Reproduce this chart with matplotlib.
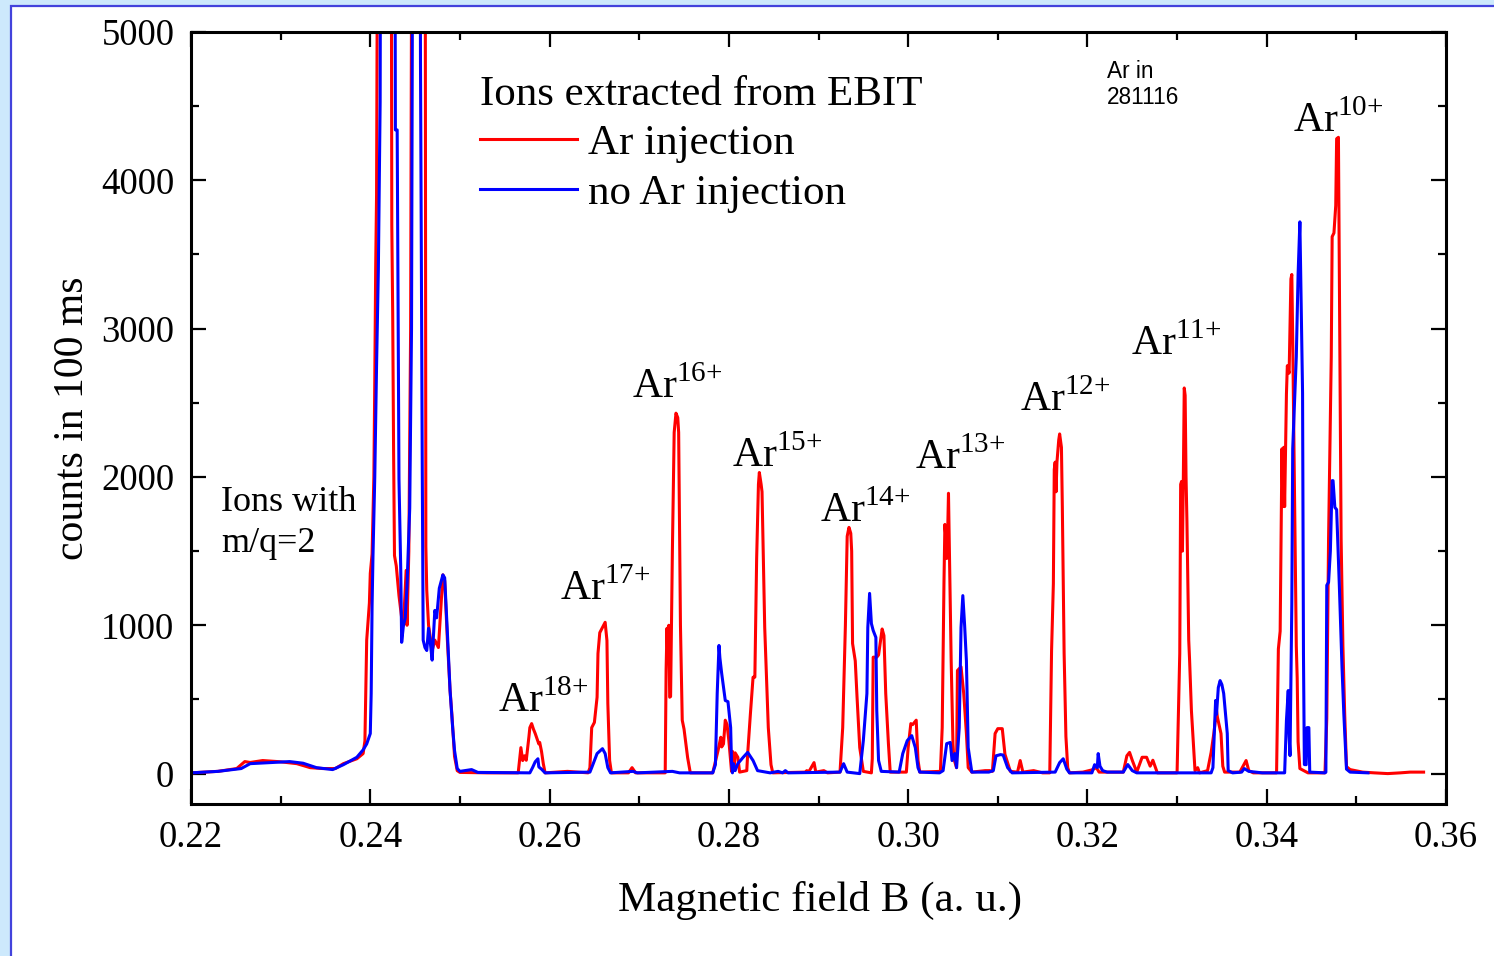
import matplotlib
matplotlib.use('Agg')
import matplotlib.pyplot as plt
from matplotlib.patches import Rectangle
from matplotlib.ticker import MultipleLocator

plt.rcParams['font.family'] = 'Liberation Serif'
plt.rcParams['mathtext.fontset'] = 'custom'
plt.rcParams['mathtext.rm'] = 'Liberation Serif'

# spectrum with Ar injected (B in a.u., counts per 100 ms)
ar_injection = [
    (0.2200, 5), (0.2230, 15), (0.2251, 34), (0.2260, 81), (0.2266, 75), (0.2280, 88),
    (0.2299, 80), (0.2318, 67), (0.2333, 40), (0.2347, 34), (0.2361, 34), (0.2370, 67),
    (0.2385, 100), (0.2392, 135), (0.2394, 220), (0.2396, 900), (0.2399, 1150), (0.2400, 1350),
    (0.2402, 1480), (0.2404, 2000), (0.2405, 2640), (0.2406, 3400), (0.2407, 3900), (0.2409, 7500),
    (0.2423, 7500), (0.2424, 3700), (0.2425, 3100), (0.2426, 2170), (0.2427, 1470), (0.2429, 1400),
    (0.2432, 1200), (0.2435, 1050), (0.2437, 1000), (0.2440, 1370), (0.2441, 1000), (0.2443, 1500),
    (0.2445, 3000), (0.2447, 7500), (0.2461, 7500), (0.2462, 1530), (0.2463, 1235), (0.2465, 1000),
    (0.2469, 830), (0.2472, 900), (0.2476, 850), (0.2479, 1150), (0.2481, 1340), (0.2483, 1300),
    (0.2486, 900), (0.2489, 560), (0.2491, 400), (0.2494, 115), (0.2497, 20), (0.2500, 8),
    (0.2530, 5), (0.2565, 5), (0.2568, 175), (0.2570, 88), (0.2572, 120), (0.2574, 90),
    (0.2577, 250), (0.2578, 310), (0.2580, 337), (0.2582, 300), (0.2584, 270), (0.2588, 200),
    (0.2589, 210), (0.2591, 150), (0.2593, 67), (0.2595, 5), (0.2620, 15), (0.2643, 5),
    (0.2645, 40), (0.2647, 310), (0.2650, 345), (0.2653, 515), (0.2654, 810), (0.2656, 950),
    (0.2659, 985), (0.2662, 1020), (0.2664, 897), (0.2665, 472), (0.2667, 88), (0.2669, 5),
    (0.2688, 5), (0.2692, 40), (0.2696, 5), (0.2729, 5), (0.2730, 700), (0.2731, 980),
    (0.2732, 750), (0.2733, 1000), (0.2734, 515), (0.2735, 520), (0.2737, 1500), (0.2739, 2300),
    (0.2741, 2430), (0.2743, 2400), (0.2744, 2300), (0.2746, 1000), (0.2748, 360), (0.2750, 300),
    (0.2754, 108), (0.2757, 5), (0.2782, 5), (0.2788, 157), (0.2791, 245), (0.2792, 180),
    (0.2794, 200), (0.2796, 360), (0.2798, 330), (0.2800, 222), (0.2803, 15), (0.2804, 150),
    (0.2806, 40), (0.2807, 140), (0.2810, 110), (0.2812, 10), (0.2820, 20), (0.2821, 135),
    (0.2824, 400), (0.2827, 650), (0.2829, 650), (0.2831, 1450), (0.2833, 1950), (0.2834, 2030),
    (0.2836, 1950), (0.2837, 1900), (0.2839, 1300), (0.2840, 985), (0.2844, 310), (0.2847, 60),
    (0.2849, 5), (0.2885, 10), (0.2887, 20), (0.2889, 10), (0.2895, 74), (0.2897, 10),
    (0.2906, 20), (0.2910, 5), (0.2924, 10), (0.2927, 310), (0.2930, 1000), (0.2932, 1600),
    (0.2934, 1660), (0.2936, 1620), (0.2937, 1500), (0.2938, 877), (0.2941, 760), (0.2943, 515),
    (0.2946, 175), (0.2950, 15), (0.2959, 5), (0.2960, 100), (0.2961, 785), (0.2965, 785),
    (0.2967, 800), (0.2971, 975), (0.2973, 930), (0.2975, 540), (0.2978, 202), (0.2980, 10),
    (0.2998, 10), (0.3000, 175), (0.3003, 337), (0.3005, 330), (0.3009, 360), (0.3011, 90),
    (0.3013, 10), (0.3036, 15), (0.3038, 310), (0.3040, 1300), (0.3041, 1680), (0.3042, 1600),
    (0.3043, 1450), (0.3044, 1600), (0.3045, 1890), (0.3046, 1500), (0.3048, 760), (0.3050, 200),
    (0.3051, 100), (0.3054, 40), (0.3055, 695), (0.3059, 720), (0.3062, 540), (0.3065, 270),
    (0.3067, 40), (0.3071, 10), (0.3086, 20), (0.3091, 20), (0.3094, 15), (0.3097, 270),
    (0.3100, 303), (0.3105, 303), (0.3108, 130), (0.3114, 15), (0.3122, 10), (0.3125, 88),
    (0.3128, 10), (0.3140, 20), (0.3150, 5), (0.3158, 5), (0.3160, 830), (0.3162, 1280),
    (0.3163, 2050), (0.3164, 2100), (0.3165, 1900), (0.3166, 2100), (0.3168, 2250), (0.3169, 2290),
    (0.3171, 2200), (0.3172, 1800), (0.3174, 810), (0.3176, 250), (0.3178, 40), (0.3180, 5),
    (0.3195, 10), (0.3205, 25), (0.3210, 40), (0.3213, 10), (0.3240, 10), (0.3244, 120),
    (0.3247, 143), (0.3250, 90), (0.3255, 10), (0.3261, 110), (0.3266, 110), (0.3270, 50),
    (0.3273, 90), (0.3278, 5), (0.3300, 5), (0.3303, 810), (0.3304, 1950), (0.3305, 1970),
    (0.3306, 1500), (0.3307, 2000), (0.3308, 2600), (0.3309, 2550), (0.3310, 2000), (0.3311, 1700),
    (0.3313, 900), (0.3314, 760), (0.3316, 425), (0.3320, 20), (0.3323, 40), (0.3325, 5),
    (0.3334, 20), (0.3338, 143), (0.3341, 270), (0.3344, 425), (0.3345, 380), (0.3349, 270),
    (0.3351, 50), (0.3353, 10), (0.3370, 10), (0.3377, 88), (0.3380, 20), (0.3385, 5),
    (0.3411, 5), (0.3413, 840), (0.3415, 960), (0.3417, 2190), (0.3418, 1800), (0.3419, 2200),
    (0.3420, 1800), (0.3422, 2560), (0.3423, 2750), (0.3425, 2700), (0.3427, 3335), (0.3428, 3365),
    (0.3429, 2930), (0.3431, 1880), (0.3433, 860), (0.3434, 645), (0.3435, 215), (0.3437, 34),
    (0.3446, 5), (0.3465, 5), (0.3467, 370), (0.3469, 1585), (0.3472, 2810), (0.3473, 3620),
    (0.3475, 3645), (0.3477, 3830), (0.3478, 4280), (0.3480, 4290), (0.3481, 3370), (0.3483, 1585),
    (0.3485, 860), (0.3487, 400), (0.3489, 47), (0.3493, 27), (0.3507, 10), (0.3520, 5),
    (0.3535, 0), (0.3549, 5), (0.3560, 10), (0.3575, 10),
]

# background spectrum without Ar
no_ar_injection = [
    (0.2200, 5), (0.2230, 15), (0.2256, 34), (0.2266, 67), (0.2287, 74), (0.2310, 81),
    (0.2325, 70), (0.2340, 40), (0.2358, 27), (0.2370, 60), (0.2385, 110), (0.2392, 160),
    (0.2396, 200), (0.2400, 270), (0.2401, 540), (0.2402, 1130), (0.2403, 1465), (0.2405, 2000),
    (0.2407, 2750), (0.2409, 3400), (0.2411, 4530), (0.2412, 7500), (0.2427, 7500), (0.2428, 4340),
    (0.2430, 4340), (0.2432, 1985), (0.2434, 1370), (0.2435, 885), (0.2437, 1000), (0.2439, 1050),
    (0.2441, 1270), (0.2444, 1790), (0.2446, 3000), (0.2448, 7500), (0.2455, 7500), (0.2456, 4800),
    (0.2458, 2045), (0.2459, 900), (0.2461, 850), (0.2463, 830), (0.2465, 980), (0.2467, 880),
    (0.2469, 765), (0.2472, 1100), (0.2474, 1050), (0.2477, 1250), (0.2481, 1340), (0.2483, 1320),
    (0.2486, 950), (0.2489, 560), (0.2492, 300), (0.2494, 155), (0.2497, 34), (0.2500, 15),
    (0.2513, 27), (0.2520, 8), (0.2578, 5), (0.2581, 40), (0.2584, 80), (0.2587, 100),
    (0.2588, 45), (0.2591, 30), (0.2595, 5), (0.2645, 10), (0.2647, 40), (0.2653, 135),
    (0.2659, 168), (0.2662, 135), (0.2665, 40), (0.2668, 5), (0.2693, 15), (0.2698, 5),
    (0.2737, 15), (0.2745, 5), (0.2782, 5), (0.2785, 60), (0.2787, 540), (0.2789, 864),
    (0.2790, 780), (0.2792, 675), (0.2796, 493), (0.2799, 485), (0.2802, 310), (0.2803, 67),
    (0.2804, 5), (0.2805, 67), (0.2807, 20), (0.2810, 67), (0.2816, 110), (0.2821, 143),
    (0.2827, 88), (0.2832, 20), (0.2846, 5), (0.2855, 15), (0.2860, 5), (0.2863, 20),
    (0.2866, 5), (0.2924, 10), (0.2928, 67), (0.2932, 10), (0.2946, 0), (0.2950, 222),
    (0.2954, 540), (0.2955, 985), (0.2957, 1215), (0.2959, 1012), (0.2961, 965), (0.2964, 918),
    (0.2965, 425), (0.2967, 88), (0.2970, 15), (0.2990, 10), (0.2994, 135), (0.2999, 222),
    (0.3004, 256), (0.3008, 175), (0.3011, 40), (0.3013, 10), (0.3035, 5), (0.3039, 20),
    (0.3043, 202), (0.3047, 210), (0.3049, 88), (0.3052, 135), (0.3054, 40), (0.3057, 310),
    (0.3059, 985), (0.3061, 1200), (0.3063, 1000), (0.3065, 760), (0.3067, 175), (0.3071, 10),
    (0.3090, 10), (0.3095, 20), (0.3098, 120), (0.3103, 128), (0.3106, 125), (0.3111, 40),
    (0.3116, 5), (0.3164, 10), (0.3169, 74), (0.3173, 100), (0.3177, 30), (0.3180, 5),
    (0.3205, 5), (0.3208, 60), (0.3211, 40), (0.3212, 135), (0.3214, 50), (0.3217, 20),
    (0.3222, 10), (0.3240, 10), (0.3245, 61), (0.3250, 20), (0.3255, 5), (0.3338, 5),
    (0.3340, 40), (0.3343, 493), (0.3344, 400), (0.3346, 580), (0.3348, 627), (0.3350, 600),
    (0.3352, 540), (0.3356, 270), (0.3357, 20), (0.3362, 5), (0.3372, 10), (0.3375, 34),
    (0.3380, 15), (0.3395, 5), (0.3420, 5), (0.3422, 358), (0.3424, 560), (0.3425, 250),
    (0.3426, 121), (0.3428, 1140), (0.3429, 2190), (0.3433, 2810), (0.3435, 3365), (0.3437, 3720),
    (0.3440, 2565), (0.3441, 803), (0.3442, 61), (0.3444, 60), (0.3445, 310), (0.3447, 310),
    (0.3448, 10), (0.3465, 5), (0.3466, 10), (0.3467, 1270), (0.3469, 1290), (0.3471, 1500),
    (0.3473, 1975), (0.3474, 1975), (0.3476, 1795), (0.3478, 1780), (0.3481, 1270), (0.3484, 715),
    (0.3486, 405), (0.3489, 30), (0.3493, 10), (0.3513, 5),
]

# charge state labels, placed at the baseline of "Ar"
charge_states = ['18+', '17+', '16+', '15+', '14+', '13+', '12+', '11+', '10+']
label_B = [0.2543, 0.2612, 0.2692, 0.2804, 0.2902, 0.3008, 0.3125, 0.3249, 0.3429]
label_counts = [412, 1169, 2534, 2068, 1696, 2054, 2446, 2824, 4324]

B_on, counts_on = zip(*ar_injection)
B_off, counts_off = zip(*no_ar_injection)

fig = plt.figure(figsize=(14.94, 9.56), dpi=100, facecolor='#cde9fc')
fig.patches.append(Rectangle((11 / 1494, -0.01), 1.0, 1.01 - 6 / 956, transform=fig.transFigure,
                             facecolor='white', edgecolor='#4343dc', linewidth=1.6, zorder=-1))

ax = fig.add_axes([191 / 1494, 152 / 956, 1255 / 1494, 772 / 956])
ax.plot(B_on, counts_on, color='#ff0000', lw=2.2, label='Ar injection')
ax.plot(B_off, counts_off, color='#0000ff', lw=2.2, label='no Ar injection')

ax.set_xlim(0.22, 0.36)
ax.set_ylim(-205, 5000)
ax.xaxis.set_major_locator(MultipleLocator(0.02))
ax.xaxis.set_minor_locator(MultipleLocator(0.01))
ax.yaxis.set_major_locator(MultipleLocator(1000))
ax.yaxis.set_minor_locator(MultipleLocator(500))
ax.xaxis.set_major_formatter(lambda v, p: f'{v:.2f}')

ax.tick_params(which='both', direction='in', top=True, right=True, width=1.6)
ax.tick_params(which='major', length=11, labelsize=26.5, pad=12)
ax.tick_params(which='minor', length=6)
for sp in ax.spines.values():
    sp.set_linewidth(2.2)

ax.set_xlabel('Magnetic field B (a. u.)', fontsize=31)
ax.set_ylabel('counts in 100 ms', fontsize=30)
ax.xaxis.set_label_coords(0.501, -0.100)
ax.yaxis.set_label_coords(-0.079, 0.5)

leg = ax.legend(title='Ions extracted from EBIT', loc='upper left', bbox_to_anchor=(0.2303, 0.944),
                frameon=False, fontsize=31, title_fontsize=31, alignment='left',
                handlelength=2.25, handletextpad=0.26, labelspacing=0.24, borderpad=0, borderaxespad=0)

for q, b, c in zip(charge_states, label_B, label_counts):
    ax.text(b, c, rf'Ar$^{{\mathrm{{{q[:-1]}}}{{+}}}}$', fontsize=30, ha='left', va='baseline')

ax.text(0.2234, 1690, 'Ions with\nm/q=2', fontsize=26, ha='left', va='center', linespacing=1.34)
ax.text(0.3222, 4810, 'Ar in\n281116', fontsize=16.3, family='Liberation Sans', ha='left', va='top',
        linespacing=1.15)

fig.savefig('out.png', dpi=100, facecolor=fig.get_facecolor())
